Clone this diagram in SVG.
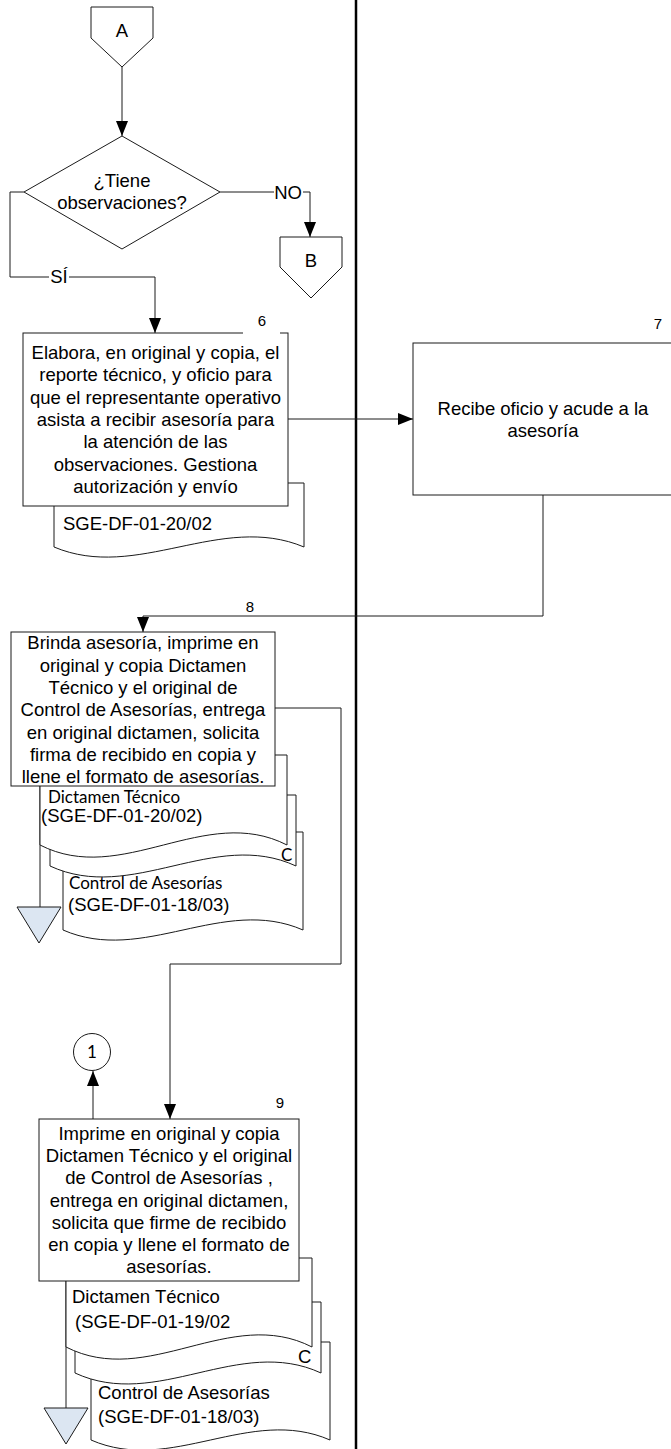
<svg xmlns="http://www.w3.org/2000/svg" width="671" height="1449" viewBox="0 0 671 1449">
<style>
.s{fill:#fff;stroke:#1a1a1a;stroke-width:1}
.c{fill:none;stroke:#1a1a1a;stroke-width:1}
.t{font-family:"Liberation Sans",Arial,sans-serif;font-size:18.5px;fill:#000}
.m{text-anchor:middle}
.n{font-family:"Liberation Sans",Arial,sans-serif;font-size:15px;fill:#000;text-anchor:middle}
.k{font-family:Lato,"Open Sans",sans-serif;font-size:17px;fill:#000}
.tri{fill:#dce6f2;stroke:#1a1a1a;stroke-width:1}
</style>
<defs>
<marker id="arr" viewBox="0 0 15 12" refX="15" refY="6" markerWidth="15" markerHeight="12" markerUnits="userSpaceOnUse" orient="auto">
<path d="M0,0 L15,6 L0,12 Z" fill="#000"/>
</marker>
</defs>
<rect width="671" height="1449" fill="#fff"/>
<line x1="356" y1="0" x2="356" y2="1449" stroke="#000" stroke-width="2.5"/>

<g id="connectors">
<path class="c" d="M122,67 V136" marker-end="url(#arr)"/>
<path class="c" d="M24,192 H10 V277 H155 V333" marker-end="url(#arr)"/>
<path class="c" d="M220,192 H310 V237" marker-end="url(#arr)"/>
<path class="c" d="M288,419 H413" marker-end="url(#arr)"/>
<path class="c" d="M543,495 V616 H143 V632" marker-end="url(#arr)"/>
<path class="c" d="M275,708 H341 V964 H170 V1119" marker-end="url(#arr)"/>
<path class="c" d="M93,1119 V1071" marker-end="url(#arr)"/>
<path class="c" d="M40,786 V907"/>
<path class="c" d="M66,1281 V1408"/>
<rect x="49" y="270" width="20" height="14" fill="#fff"/>
<text class="t m" x="59" y="283">SÍ</text>
<rect x="274" y="185" width="29" height="14" fill="#fff"/>
<text class="t m" x="288" y="199">NO</text>
</g>

<g id="conA">
<path class="s" d="M91,7 H153 V38 L122,67 L91,38 Z"/>
<text class="t m" x="122" y="37">A</text>
</g>

<g id="decision">
<path class="s" d="M122,136 L220,192 L122,249 L24,192 Z"/>
<text class="t m" x="122" y="187">¿Tiene</text>
<text class="t m" x="122" y="209">observaciones?</text>
</g>

<g id="conB">
<path class="s" d="M280,237 H342 V267 L311,298 L280,267 Z"/>
<text class="t m" x="311" y="267">B</text>
</g>

<g id="step6">
<path class="s" d="M54,483 H304 V547 C221,512 137,582 54,547 Z"/>
<text class="t" x="63" y="530">SGE-DF-01-20/02</text>
<rect class="s" x="23" y="333" width="265" height="173"/>
<rect x="243" y="330" width="37" height="6" fill="#fff"/>
<text class="n" x="262" y="326">6</text>
<text class="t m" x="155.5" y="359">Elabora, en original y copia, el</text>
<text class="t m" x="155.5" y="381.3">reporte técnico, y oficio para</text>
<text class="t m" x="155.5" y="403.6">que el representante operativo</text>
<text class="t m" x="155.5" y="425.9">asista a recibir asesoría para</text>
<text class="t m" x="155.5" y="448.2">la atención de las</text>
<text class="t m" x="155.5" y="470.5">observaciones. Gestiona</text>
<text class="t m" x="155.5" y="492.8">autorización y envío</text>
</g>

<g id="step7">
<rect class="s" x="413" y="343" width="262" height="152"/>
<text class="n" x="658" y="329">7</text>
<text class="t m" x="543" y="415">Recibe oficio y acude a la</text>
<text class="t m" x="543" y="437">asesoría</text>
</g>

<g id="step8">
<path class="s" d="M63,832 H303 V930 C223,895 143,965 63,930 Z"/>
<text class="k" x="69" y="889">Control de Asesorías</text>
<text class="t" x="68" y="911">(SGE-DF-01-18/03)</text>
<path class="s" d="M50,795 H296 V866 C214,828 132,904 50,866 Z"/>
<text class="k" x="281" y="861">C</text>
<path class="s" d="M40,755 H287 V845 C205,803 122,887 40,845 Z"/>
<text class="k" x="48" y="803" font-size="18">Dictamen Técnico</text>
<text class="t" x="41" y="822">(SGE-DF-01-20/02)</text>
<rect class="s" x="11" y="632" width="264" height="154"/>
<text class="n" x="250" y="612">8</text>
<text class="t m" x="143" y="649.3">Brinda asesoría, imprime en</text>
<text class="t m" x="143" y="671.6">original y copia Dictamen</text>
<text class="t m" x="143" y="693.9">Técnico  y el original de</text>
<text class="t m" x="143" y="716.2">Control de Asesorías, entrega</text>
<text class="t m" x="143" y="738.5">en original dictamen, solicita</text>
<text class="t m" x="143" y="760.8">firma de recibido en copia y</text>
<text class="t m" x="143" y="783.1">llene el formato de asesorías.</text>
<path class="tri" d="M17,907 H61 L39,943 Z"/>
</g>

<g id="con1">
<circle class="s" cx="92" cy="1052" r="18.5"/>
<text class="k" x="92" y="1058" text-anchor="middle" font-size="16">1</text>
</g>

<g id="step9">
<path class="s" d="M91,1342 H330 V1440 C250,1405 171,1475 91,1440 Z"/>
<text class="t" x="98" y="1399">Control de Asesorías</text>
<text class="t" x="98" y="1423">(SGE-DF-01-18/03)</text>
<path class="s" d="M75,1302 H321 V1373 C239,1335 157,1411 75,1373 Z"/>
<text class="t" x="298" y="1363">C</text>
<path class="s" d="M66,1258 H312 V1347 C230,1305 148,1389 66,1347 Z"/>
<text class="t" x="72" y="1303">Dictamen Técnico</text>
<text class="t" x="75" y="1328"> (SGE-DF-01-19/02</text>
<rect class="s" x="39" y="1119" width="260" height="162"/>
<text class="n" x="280" y="1108">9</text>
<text class="t m" x="169" y="1140">Imprime en original y copia</text>
<text class="t m" x="169" y="1162.2">Dictamen Técnico y el original</text>
<text class="t m" x="169" y="1184.4">de Control de Asesorías ,</text>
<text class="t m" x="169" y="1206.6">entrega en original dictamen,</text>
<text class="t m" x="169" y="1228.8">solicita que firme de recibido</text>
<text class="t m" x="169" y="1251">en copia y llene el formato de</text>
<text class="t m" x="169" y="1273.2">asesorías.</text>
<path class="tri" d="M44,1408 H88 L66,1444 Z"/>
</g>
</svg>
